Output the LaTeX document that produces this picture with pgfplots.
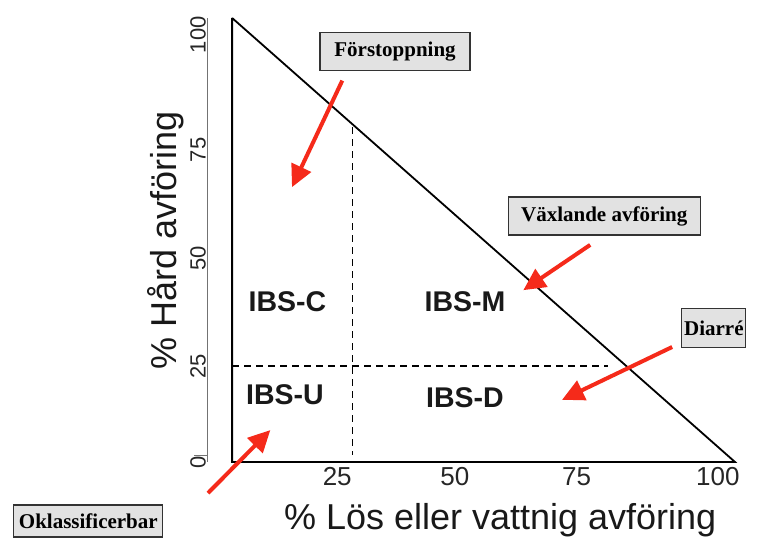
\documentclass[border=0pt]{standalone}
\usepackage{fontspec}
\setmainfont{Liberation Serif}
\setsansfont{Liberation Sans}
\usepackage{pgfplots}
\pgfplotsset{compat=1.18}
\usetikzlibrary{arrows.meta}
\definecolor{arrowred}{HTML}{F52A1A}
\definecolor{boxgray}{HTML}{E2E2E2}
\begin{document}
\begin{tikzpicture}[x=1pt,y=1pt]
\useasboundingbox (0pt,0pt) rectangle (760pt,-540pt);
\begin{axis}[
  at={(207pt,-462pt)}, anchor=south west,
  scale only axis, width=528pt, height=444pt,
  xmin=-5, xmax=100, ymin=0, ymax=100,
  axis lines=left,
  axis line style={-},
  x axis line style={draw=none},
  y axis line style={draw=black!55, line width=0.8pt},
  major tick length=0pt,
  xtick={20.9,44.3,68.5,96.6}, xticklabels={25,50,75,100},
  ytick={0,21.6,45.9,70.3,96.2}, yticklabels={0,25,50,75,100},
  xticklabel style={font=\sffamily\fontsize{26}{26}\selectfont, text=black!85, anchor=north, yshift=-2pt},
  yticklabel style={font=\sffamily\fontsize{22}{22}\selectfont, text=black!85, rotate=90, anchor=south, inner sep=1pt},
  clip=false,
]
% y axis small tick at 0
\addplot[black!55, line width=0.8pt] coordinates {(-7.5,1.5) (-5,1.5)};
% triangle
\addplot[black, line width=1.8pt, line join=miter] coordinates {(0,100) (0,0) (100,0) (0,100)};
% dashed dividers
\addplot[black, line width=1.5pt, dash pattern=on 7pt off 5pt] coordinates {(23.9,75.4) (23.9,1.5)};
\addplot[black, line width=1.5pt, dash pattern=on 7pt off 5pt] coordinates {(0,21.6) (74.7,21.6)};
% arrows
\addplot[arrowred, line width=4pt, -{Triangle[width=21pt,length=22pt]}] coordinates {(21.9,85.9) (11.9,61.9)};
\addplot[arrowred, line width=4pt, -{Triangle[width=21pt,length=22pt]}] coordinates {(71.2,48.9) (57.9,38.7)};
\addplot[arrowred, line width=4pt, -{Triangle[width=21pt,length=22pt]}] coordinates {(87.5,25.9) (65.6,14.0)};
\addplot[arrowred, line width=4pt, -{Triangle[width=21pt,length=22pt]}] coordinates {(-4.8,-7.0) (7.6,7.2)};
% region labels
\tikzset{ibs/.style={font=\sffamily\bfseries\fontsize{28.5}{28.5}\selectfont, text=black!90}}
\node[ibs] at (axis cs:11.0,36.0) {IBS-C};
\node[ibs] at (axis cs:46.3,36.0) {IBS-M};
\node[ibs] at (axis cs:10.5,15.1) {IBS-U};
\node[ibs] at (axis cs:46.3,14.4) {IBS-D};
% boxes
\tikzset{lbox/.style={draw=black!80, fill=boxgray, line width=1.2pt, inner sep=0pt, minimum height=38pt, font=\rmfamily\bfseries\fontsize{21}{21}\selectfont}}
\node[lbox, minimum width=150pt] at (axis cs:32.4,92.4) {Förstoppning};
\node[lbox, minimum width=192pt] at (axis cs:74.0,55.4) {Växlande avföring};
\node[lbox, minimum width=64pt, minimum height=39pt] at (axis cs:95.8,30.2) {Diarré};
\node[lbox, minimum width=149pt, minimum height=32pt] at (axis cs:-28.6,-13.3) {Oklassificerbar};
% axis titles
\node[font=\sffamily\fontsize{36}{36}\selectfont, text=black!90] at (axis cs:53.3,-13.1) {\% Lös eller vattnig avföring};
\node[font=\sffamily\fontsize{36}{36}\selectfont, text=black!90, rotate=90] at (axis cs:-13.3,50) {\% Hård avföring};
\end{axis}
\end{tikzpicture}
\end{document}
